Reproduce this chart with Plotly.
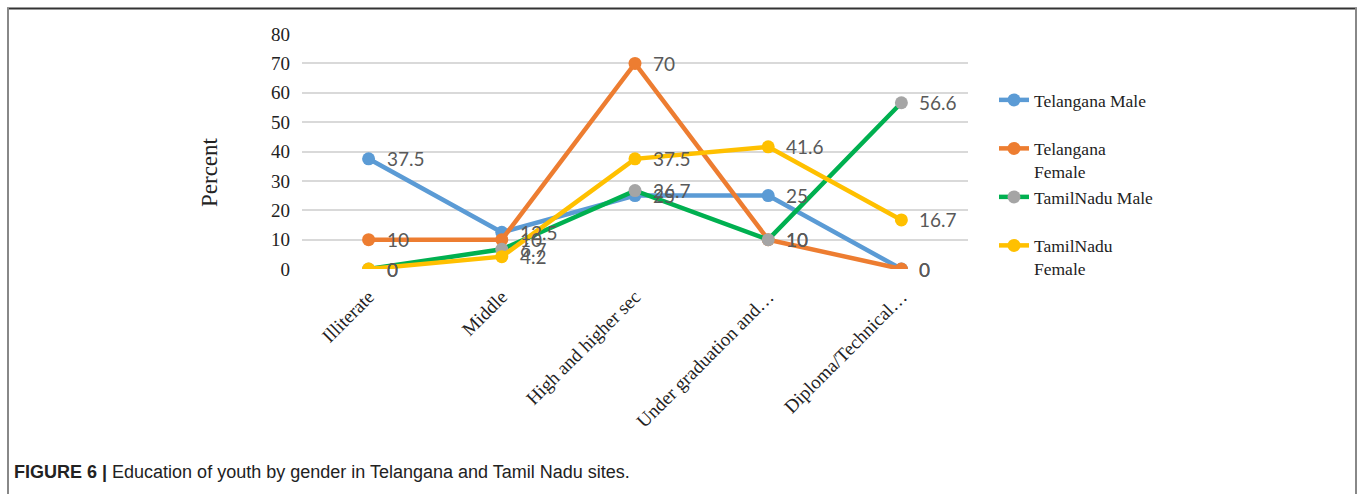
import plotly.graph_objects as go

categories = ["Illiterate", "Middle", "High and higher sec", "Under graduation and…", "Diploma/Technical…"]
series_names = ["Telangana Male", "Telangana<br>Female", "TamilNadu Male", "TamilNadu<br>Female"]
telangana_male = [37.5, 12.5, 25, 25, 0]
telangana_female = [10, 10, 70, 10, 0]
tamilnadu_male = [0, 6.7, 26.7, 10, 56.6]
tamilnadu_female = [0, 4.2, 37.5, 41.6, 16.7]
y_ticks = [0, 10, 20, 30, 40, 50, 60, 70, 80]

line_colors = ["#5B9BD5", "#ED7D31", "#00B050", "#FFC000"]
marker_colors = ["#5B9BD5", "#ED7D31", "#A5A5A5", "#FFC000"]
all_series = [telangana_male, telangana_female, tamilnadu_male, tamilnadu_female]

W, H = 1360, 494
L, R, T, B = 302, 968, 34, 269
SERIF = "Liberation Serif, Times New Roman, serif"

def px(x):
    return (x - L) / (R - L)

def py(y):
    return (B - y) / (B - T)

fig = go.Figure()
for i, (name, vals) in enumerate(zip(series_names, all_series)):
    fig.add_trace(go.Scatter(
        x=categories, y=vals, name=name + ("<br> " if "<br>" not in name else ""),
        mode="lines+markers",
        line=dict(color=line_colors[i], width=4.5),
        marker=dict(color=marker_colors[i], size=13),
        legendgroup=str(i),
    ))

annotations = []
for vals in all_series:
    for c, v in zip(categories, vals):
        annotations.append(dict(
            x=c, y=v, xref="x", yref="y", text=f"{v:g}", showarrow=False,
            xanchor="left", yanchor="middle", xshift=16,
            font=dict(family="Lato, Open Sans, sans-serif", size=19, color="#595959"),
        ))

annotations.append(dict(
    x=px(209), y=py(172), xref="paper", yref="paper", xanchor="center", yanchor="middle",
    text="Percent", textangle=-90,
    showarrow=False, font=dict(family=SERIF, size=23, color="#222"),
))
annotations.append(dict(
    x=px(12), y=py(472), xref="paper", yref="paper", xanchor="left", yanchor="middle",
    text="<b>FIGURE 6 |</b> Education of youth by gender in Telangana and Tamil Nadu sites.",
    showarrow=False, font=dict(family="Liberation Sans, Arial, sans-serif", size=18, color="#222"),
))

shapes = [
    dict(type="line", xref="paper", yref="paper", x0=px(7), x1=px(1357), y0=py(8.5), y1=py(8.5),
         line=dict(color="#333", width=2)),
    dict(type="line", xref="paper", yref="paper", x0=px(8), x1=px(8), y0=py(8), y1=py(500),
         line=dict(color="#888", width=2)),
    dict(type="line", xref="paper", yref="paper", x0=px(1356), x1=px(1356), y0=py(8), y1=py(500),
         line=dict(color="#888", width=2)),
]

fig.update_layout(
    width=W, height=H,
    margin=dict(l=L, r=W - R, t=T, b=H - B),
    paper_bgcolor="white", plot_bgcolor="white",
    showlegend=True,
    legend=dict(
        x=px(994), y=py(82), xanchor="left", yanchor="top",
        font=dict(family=SERIF, size=17.5, color="#222"),
        valign="top", traceorder="grouped", tracegroupgap=0,
        bgcolor="rgba(0,0,0,0)",
    ),
    annotations=annotations,
    shapes=shapes,
    xaxis=dict(
        type="category", tickangle=-45, showgrid=False, zeroline=False, showline=False,
        tickfont=dict(family=SERIF, size=19, color="#222"),
        range=[-0.5, 4.5], ticklabelstandoff=12,
    ),
    yaxis=dict(
        range=[0, 80], tickvals=y_ticks, showgrid=True, gridcolor="#D9D9D9", gridwidth=1.5,
        zeroline=False, showline=False, ticklabelstandoff=11,
        tickfont=dict(family=SERIF, size=19, color="#222"),
    ),
)

fig.write_html("out.html")
